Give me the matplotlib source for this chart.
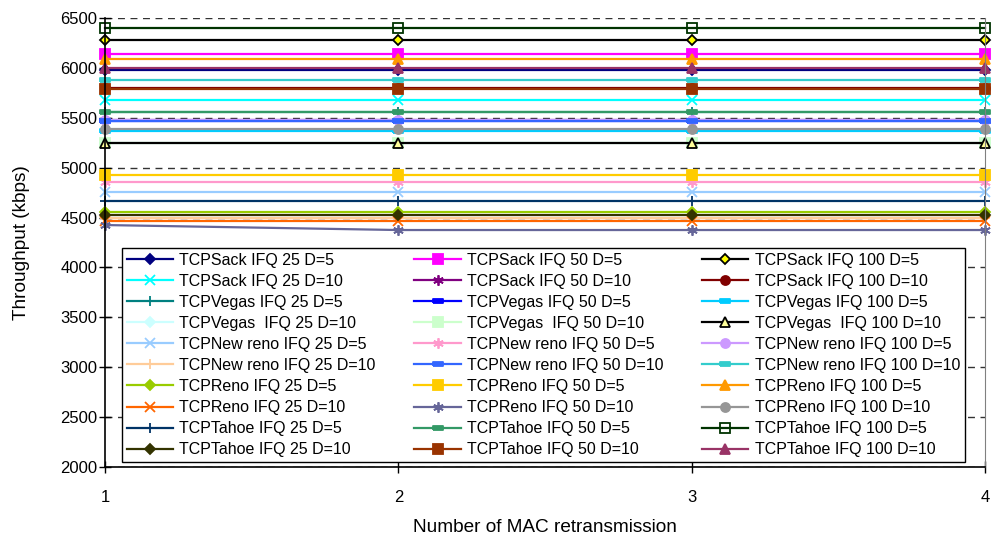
import matplotlib.pyplot as plt

# x axis: number of MAC retransmission
retrans = [1, 2, 3, 4]

# throughput (kbps), IFQ 25
sack_25_d5 = [5975, 5975, 5975, 5975]
sack_25_d10 = [5682, 5682, 5682, 5682]
vegas_25_d5 = [5555, 5555, 5555, 5555]
vegas_25_d10 = [5250, 5250, 5250, 5250]
newreno_25_d5 = [4760, 4760, 4760, 4760]
newreno_25_d10 = [4493, 4493, 4493, 4493]
reno_25_d5 = [4556, 4556, 4556, 4556]
reno_25_d10 = [4463, 4463, 4463, 4463]
tahoe_25_d5 = [4666, 4666, 4666, 4666]
tahoe_25_d10 = [4530, 4530, 4530, 4530]

# IFQ 50
sack_50_d5 = [6135, 6135, 6135, 6135]
sack_50_d10 = [5478, 5478, 5478, 5478]
vegas_50_d5 = [5470, 5470, 5470, 5470]
vegas_50_d10 = [5250, 5250, 5250, 5250]
newreno_50_d5 = [4860, 4860, 4860, 4860]
newreno_50_d10 = [5471, 5471, 5471, 5471]
reno_50_d5 = [4927, 4927, 4927, 4927]
reno_50_d10 = [4425, 4375, 4375, 4375]
tahoe_50_d5 = [5558, 5558, 5558, 5558]
tahoe_50_d10 = [5790, 5790, 5790, 5790]

# IFQ 100
sack_100_d5 = [6280, 6280, 6280, 6280]
sack_100_d10 = [5795, 5795, 5795, 5795]
vegas_100_d5 = [5366, 5366, 5366, 5366]
vegas_100_d10 = [5245, 5245, 5245, 5245]
newreno_100_d5 = [5482, 5482, 5482, 5482]
newreno_100_d10 = [5880, 5880, 5880, 5880]
reno_100_d5 = [6085, 6085, 6085, 6085]
reno_100_d10 = [5385, 5385, 5385, 5385]
tahoe_100_d5 = [6400, 6400, 6400, 6400]
tahoe_100_d10 = [6000, 6000, 6000, 6000]

STAR = (6, 2, 0)
BAR = [(-1, -0.35), (1, -0.35), (1, 0.35), (-1, 0.35), (-1, -0.35)]

# (label, values, line colour, marker, face, edge) -- IFQ 25 / 50 / 100 columns
col_25 = [
    ('TCPSack IFQ 25 D=5', sack_25_d5, '#000080', 'D', '#000080', '#000080'),
    ('TCPSack IFQ 25 D=10', sack_25_d10, '#00FFFF', 'x', '#00FFFF', '#00FFFF'),
    ('TCPVegas IFQ 25 D=5', vegas_25_d5, '#008080', '+', '#008080', '#008080'),
    ('TCPVegas  IFQ 25 D=10', vegas_25_d10, '#CCFFFF', 'D', '#CCFFFF', '#CCFFFF'),
    ('TCPNew reno IFQ 25 D=5', newreno_25_d5, '#99CCFF', 'x', '#99CCFF', '#99CCFF'),
    ('TCPNew reno IFQ 25 D=10', newreno_25_d10, '#FFCC99', '+', '#FFCC99', '#FFCC99'),
    ('TCPReno IFQ 25 D=5', reno_25_d5, '#99CC00', 'D', '#99CC00', '#99CC00'),
    ('TCPReno IFQ 25 D=10', reno_25_d10, '#FF6600', 'x', '#FF6600', '#FF6600'),
    ('TCPTahoe IFQ 25 D=5', tahoe_25_d5, '#003366', '+', '#003366', '#003366'),
    ('TCPTahoe IFQ 25 D=10', tahoe_25_d10, '#333300', 'D', '#333300', '#333300'),
]
col_50 = [
    ('TCPSack IFQ 50 D=5', sack_50_d5, '#FF00FF', 's', '#FF00FF', '#FF00FF'),
    ('TCPSack IFQ 50 D=10', sack_50_d10, '#800080', STAR, '#800080', '#800080'),
    ('TCPVegas IFQ 50 D=5', vegas_50_d5, '#0000FF', BAR, '#0000FF', '#0000FF'),
    ('TCPVegas  IFQ 50 D=10', vegas_50_d10, '#CCFFCC', 's', '#CCFFCC', '#CCFFCC'),
    ('TCPNew reno IFQ 50 D=5', newreno_50_d5, '#FF99CC', STAR, '#FF99CC', '#FF99CC'),
    ('TCPNew reno IFQ 50 D=10', newreno_50_d10, '#3366FF', BAR, '#3366FF', '#3366FF'),
    ('TCPReno IFQ 50 D=5', reno_50_d5, '#FFCC00', 's', '#FFCC00', '#FFCC00'),
    ('TCPReno IFQ 50 D=10', reno_50_d10, '#666699', STAR, '#666699', '#666699'),
    ('TCPTahoe IFQ 50 D=5', tahoe_50_d5, '#339966', BAR, '#339966', '#339966'),
    ('TCPTahoe IFQ 50 D=10', tahoe_50_d10, '#993300', 's', '#993300', '#993300'),
]
col_100 = [
    ('TCPSack IFQ 100 D=5', sack_100_d5, '#000000', 'D', '#FFFF00', '#000000'),
    ('TCPSack IFQ 100 D=10', sack_100_d10, '#800000', 'o', '#800000', '#800000'),
    ('TCPVegas IFQ 100 D=5', vegas_100_d5, '#00CCFF', BAR, '#00CCFF', '#00CCFF'),
    ('TCPVegas  IFQ 100 D=10', vegas_100_d10, '#000000', '^', '#FFFF99', '#000000'),
    ('TCPNew reno IFQ 100 D=5', newreno_100_d5, '#CC99FF', 'o', '#CC99FF', '#CC99FF'),
    ('TCPNew reno IFQ 100 D=10', newreno_100_d10, '#33CCCC', BAR, '#33CCCC', '#33CCCC'),
    ('TCPReno IFQ 100 D=5', reno_100_d5, '#FF9900', '^', '#FF9900', '#FF9900'),
    ('TCPReno IFQ 100 D=10', reno_100_d10, '#969696', 'o', '#969696', '#969696'),
    ('TCPTahoe IFQ 100 D=5', tahoe_100_d5, '#003300', 's', 'none', '#003300'),
    ('TCPTahoe IFQ 100 D=10', tahoe_100_d10, '#993366', '^', '#993366', '#993366'),
]


def marker_size(marker):
    if marker in ('x', '+') or marker == STAR:
        return 7.5
    if marker == 'D':
        return 5.5
    return 6.5


def draw():
    plt.rcParams['font.family'] = ['Liberation Sans', 'DejaVu Sans']
    fig = plt.figure(figsize=(9.93, 5.41), dpi=100)
    ax = fig.add_axes([105 / 993, 1 - 467 / 541, 880 / 993, 449 / 541])

    handles = {}
    # excel draws row by row (25, 50, 100), later series on top
    for row in range(10):
        for col in (col_25, col_50, col_100):
            label, vals, color, mk, mfc, mec = col[row]
            line, = ax.plot(retrans, vals, color=color, lw=1.6, marker=mk,
                            ms=marker_size(mk), mfc=mfc, mec=mec, mew=1.3,
                            clip_on=False, label=label)
            handles[label] = line

    ax.set_xlim(1, 4)
    ax.set_ylim(2000, 6500)
    ax.set_xticks(retrans)
    ax.set_yticks(range(2000, 6501, 500))
    ax.yaxis.grid(True, linestyle=(0, (5, 4)), color='#333333', lw=1)
    ax.set_axisbelow(True)
    ax.tick_params(direction='inout', length=9, width=1, labelsize=12)
    ax.tick_params(axis='x', pad=12)
    ax.tick_params(axis='y', pad=1)
    ax.spines['top'].set_visible(False)
    ax.spines['right'].set_color('#808080')
    ax.spines['left'].set_linewidth(1.2)
    ax.spines['bottom'].set_linewidth(1.2)
    ax.set_xlabel('Number of MAC retransmission', fontsize=13.7, labelpad=10)
    ax.set_ylabel('Throughput (kbps)', fontsize=13.7, labelpad=22)

    order = [c[0] for c in col_25] + [c[0] for c in col_50] + [c[0] for c in col_100]
    leg = ax.legend([handles[k] for k in order], order, ncol=3, loc='lower left',
                    bbox_to_anchor=(0.0193, 0.011, 0.958, 0.4745), mode='expand',
                    borderaxespad=0, fontsize=11.5, frameon=True, fancybox=False,
                    edgecolor='black', framealpha=1, handlelength=2.9,
                    handletextpad=0.4, labelspacing=0.38, borderpad=0.3,
                    columnspacing=1.0)
    leg.get_frame().set_linewidth(1.0)

    fig.savefig('out.png', dpi=100)


if __name__ == '__main__':
    draw()
